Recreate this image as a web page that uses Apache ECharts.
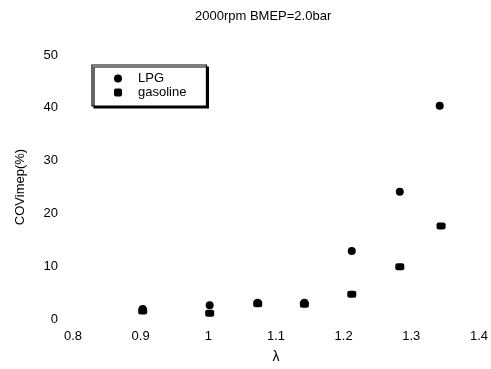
<!DOCTYPE html>
<html>
<head>
<meta charset="utf-8">
<script src="https://cdn.jsdelivr.net/npm/echarts@6/dist/echarts.min.js"></script>
<style>
  html, body { margin: 0; padding: 0; background: #fff; }
  #chart { width: 491px; height: 369px; }
</style>
</head>
<body>
<div id="chart"></div>
<script>
// lambda values
const lambdaLPG = [0.903, 1.002, 1.073, 1.142, 1.212, 1.283, 1.342];
const covLPG = [1.9, 2.6, 3.1, 3.1, 12.9, 24.1, 40.4];

const lambdaGasoline = [0.903, 1.002, 1.073, 1.142, 1.212, 1.283, 1.344];
const covGasoline = [1.5, 1.1, 2.9, 2.8, 4.7, 9.9, 17.6];

const xTicks = { min: 0.8, max: 1.4, step: 0.1 };
const yTicks = { min: 0, max: 50, step: 10 };

const font = 'Liberation Sans, Arial, sans-serif';

function pairs(xs, ys) {
  return xs.map((x, i) => [x, ys[i]]);
}

const chart = echarts.init(document.getElementById('chart'), null, { renderer: 'canvas' });

chart.setOption({
  backgroundColor: '#fff',
  animation: false,
  textStyle: { fontFamily: font, color: '#000' },
  title: {
    text: '2000rpm BMEP=2.0bar',
    left: 190,
    top: 5,
    textStyle: { fontFamily: font, fontSize: 13, fontWeight: 'normal', color: '#000' }
  },
  legend: {
    orient: 'vertical',
    left: 92,
    top: 65,
    padding: [7, 20, 7, 22],
    itemGap: 1,
    itemWidth: 8,
    itemHeight: 8,
    backgroundColor: '#fff',
    borderColor: '#000',
    borderWidth: 1.2,
    borderRadius: 0,
    shadowColor: '#000',
    shadowBlur: 0,
    shadowOffsetX: 2,
    shadowOffsetY: 2,
    textStyle: { fontFamily: font, fontSize: 13, color: '#000', padding: [0, 0, 0, 11] },
    data: ['LPG', 'gasoline']
  },
  grid: { left: 73, top: 55, width: 407, height: 266 },
  xAxis: {
    type: 'value',
    min: xTicks.min,
    max: xTicks.max,
    interval: xTicks.step,
    name: 'λ',
    nameLocation: 'middle',
    nameGap: 31,
    nameTextStyle: { fontFamily: font, fontSize: 14, color: '#000' },
    axisLine: { show: false },
    axisTick: { show: false },
    splitLine: { show: false },
    axisLabel: {
      margin: 11,
      fontFamily: font,
      fontSize: 13,
      color: '#000',
      formatter: v => String(Math.round(v * 10) / 10)
    }
  },
  yAxis: {
    type: 'value',
    min: yTicks.min,
    max: yTicks.max,
    interval: yTicks.step,
    name: 'COVimep(%)',
    nameLocation: 'middle',
    nameGap: 46,
    nameTextStyle: { fontFamily: font, fontSize: 13, color: '#000' },
    axisLine: { show: false },
    axisTick: { show: false },
    splitLine: { show: false },
    axisLabel: { margin: 15, fontFamily: font, fontSize: 13, color: '#000' }
  },
  series: [
    {
      name: 'LPG',
      type: 'scatter',
      symbol: 'circle',
      symbolSize: 8,
      itemStyle: { color: '#000', opacity: 1 },
      data: pairs(lambdaLPG, covLPG)
    },
    {
      name: 'gasoline',
      type: 'scatter',
      symbol: 'roundRect',
      symbolSize: [9, 7],
      itemStyle: { color: '#000', opacity: 1 },
      data: pairs(lambdaGasoline, covGasoline)
    }
  ]
});
</script>
</body>
</html>
